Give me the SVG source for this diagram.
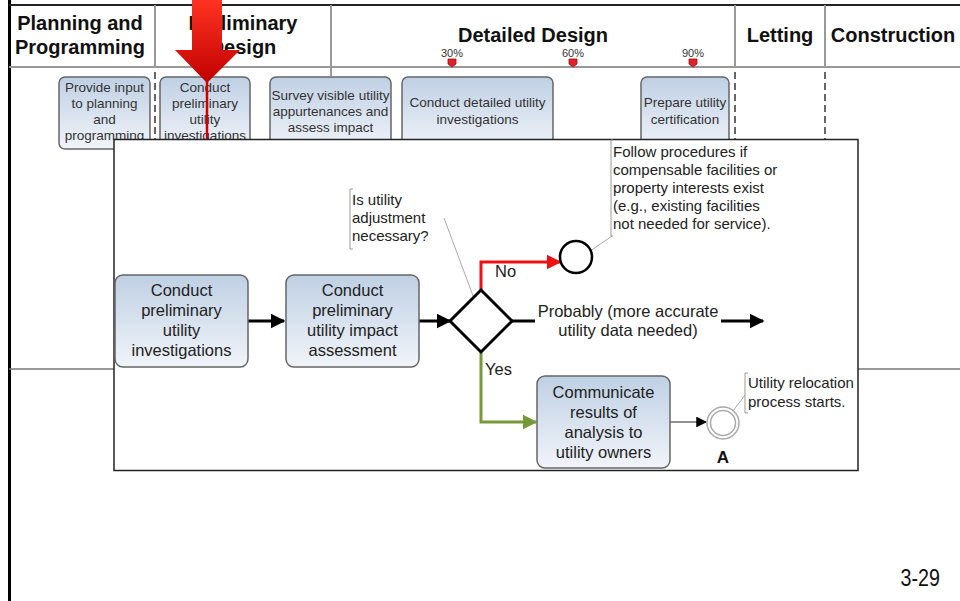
<svg xmlns="http://www.w3.org/2000/svg" width="960" height="601" viewBox="0 0 960 601">
  <defs>
    <linearGradient id="boxFill" x1="0" y1="0" x2="0" y2="1">
      <stop offset="0" stop-color="#bfd0e4"/>
      <stop offset="1" stop-color="#f1f4f9"/>
    </linearGradient>
    <linearGradient id="redArrow" x1="0" y1="0" x2="0" y2="1">
      <stop offset="0" stop-color="#ff3322"/>
      <stop offset="1" stop-color="#c00000"/>
    </linearGradient>
    <marker id="ahBlack" viewBox="0 0 10 10" refX="9" refY="5" markerWidth="5" markerHeight="5" markerUnits="strokeWidth" orient="auto">
      <path d="M0,0 L10,5 L0,10 Z" fill="#000"/>
    </marker>
    <marker id="ahRed" viewBox="0 0 10 10" refX="9" refY="5" markerWidth="5" markerHeight="5" markerUnits="strokeWidth" orient="auto">
      <path d="M0,0 L10,5 L0,10 Z" fill="#ee1111"/>
    </marker>
    <marker id="ahGreen" viewBox="0 0 10 10" refX="9" refY="5" markerWidth="5" markerHeight="5" markerUnits="strokeWidth" orient="auto">
      <path d="M0,0 L10,5 L0,10 Z" fill="#77993a"/>
    </marker>
    <marker id="ahThin" viewBox="0 0 10 10" refX="9" refY="5" markerWidth="9" markerHeight="9" markerUnits="strokeWidth" orient="auto">
      <path d="M0,0 L10,5 L0,10 Z" fill="#000"/>
    </marker>
  </defs>
  <style>
    text { font-family: "Liberation Sans", Arial, sans-serif; fill: #222; }
    .hdr { font-size: 20px; font-weight: bold; fill: #111; text-anchor: middle; }
    .ms { font-size: 11px; fill: #333; text-anchor: middle; }
    .sm { font-size: 13.5px; fill: #333; text-anchor: middle; }
    .big { font-size: 16.5px; fill: #222; text-anchor: middle; }
    .note { font-size: 15px; fill: #222; }
    .lbl { font-size: 16.5px; fill: #222; }
    .box { fill: url(#boxFill); stroke: #666; stroke-width: 1.5; }
    .grid { stroke: #999; stroke-width: 2; fill: none; }
    .dash { stroke: #666; stroke-width: 2; stroke-dasharray: 7 4; fill: none; }
    .brk { fill: none; stroke: #999; stroke-width: 1; }
    .lead { stroke: #aaa; stroke-width: 1; fill: none; }
    .flow { fill: none; stroke: #000; stroke-width: 3; }
    .mk { fill: #e0202a; stroke: #a01010; stroke-width: 0.8; }
  </style>

  <rect width="960" height="601" fill="#fff"/>

  <!-- page frame -->
  <line x1="9.5" y1="0" x2="9.5" y2="601" stroke="#000" stroke-width="3"/>
  <line x1="9" y1="5" x2="960" y2="5" stroke="#222" stroke-width="2"/>

  <!-- phase header grid -->
  <g id="phase-grid">
    <line class="grid" x1="9" y1="67" x2="960" y2="67"/>
    <line class="grid" x1="155" y1="5" x2="155" y2="67"/>
    <line class="grid" x1="331" y1="5" x2="331" y2="76" stroke="#666"/>
    <line class="grid" x1="735" y1="5" x2="735" y2="67"/>
    <line class="grid" x1="825" y1="5" x2="825" y2="67"/>
    <line class="dash" x1="155" y1="72" x2="155" y2="140"/>
    <line class="dash" x1="735" y1="72" x2="735" y2="140"/>
    <line class="dash" x1="825" y1="72" x2="825" y2="140"/>
    <line x1="9" y1="369" x2="114" y2="369" stroke="#777" stroke-width="1.5"/>
    <line x1="858" y1="369" x2="960" y2="369" stroke="#777" stroke-width="1.5"/>
  </g>

  <g id="phase-headers">
    <text class="hdr" x="80" y="30">Planning and</text>
    <text class="hdr" x="80" y="54">Programming</text>
    <text class="hdr" x="243" y="30">Preliminary</text>
    <text class="hdr" x="243" y="54">Design</text>
    <text class="hdr" x="533" y="42">Detailed Design</text>
    <text class="hdr" x="780" y="42">Letting</text>
    <text class="hdr" x="893" y="42">Construction</text>
  </g>

  <g id="milestones">
    <text class="ms" x="452" y="57">30%</text>
    <path class="mk" d="M448,59 h8 v5 l-4,3 l-4,-3 Z"/>
    <text class="ms" x="573" y="57">60%</text>
    <path class="mk" d="M569,59 h8 v5 l-4,3 l-4,-3 Z"/>
    <text class="ms" x="693" y="57">90%</text>
    <path class="mk" d="M689,59 h8 v5 l-4,3 l-4,-3 Z"/>
  </g>

  <!-- activities along the phase strip -->
  <g id="act-provide-input">
    <rect class="box" x="59" y="77" width="91" height="72" rx="6"/>
    <text class="sm" x="104.5" y="92">Provide input</text>
    <text class="sm" x="104.5" y="108">to planning</text>
    <text class="sm" x="104.5" y="124">and</text>
    <text class="sm" x="104.5" y="140">programming</text>
  </g>
  <g id="act-prelim-investigations">
    <rect class="box" x="160" y="77" width="90" height="72" rx="6"/>
    <text class="sm" x="205" y="92">Conduct</text>
    <text class="sm" x="205" y="108">preliminary</text>
    <text class="sm" x="205" y="124">utility</text>
    <text class="sm" x="205" y="140">investigations</text>
  </g>
  <g id="act-survey">
    <rect class="box" x="270" y="77" width="121" height="72" rx="6"/>
    <text class="sm" x="330.5" y="100">Survey visible utility</text>
    <text class="sm" x="330.5" y="116">appurtenances and</text>
    <text class="sm" x="330.5" y="132">assess impact</text>
  </g>
  <g id="act-detailed-investigations">
    <rect class="box" x="402" y="77" width="151" height="72" rx="6"/>
    <text class="sm" x="477.5" y="107">Conduct detailed utility</text>
    <text class="sm" x="477.5" y="124">investigations</text>
  </g>
  <g id="act-certification">
    <rect class="box" x="641" y="77" width="88" height="72" rx="6"/>
    <text class="sm" x="685" y="107">Prepare utility</text>
    <text class="sm" x="685" y="124">certification</text>
  </g>

  <!-- "you are here" pointer -->
  <g id="pointer">
    <path d="M192,0 H222 V50 H240 L207,83 L175,50 H192 Z" fill="url(#redArrow)"/>
    <line x1="207" y1="80" x2="207" y2="140" stroke="#d00000" stroke-width="2.5"/>
  </g>

  <!-- enlarged detail panel -->
  <g id="detail-panel">
    <rect x="114" y="139.5" width="744" height="331" fill="#fff" stroke="#222" stroke-width="1.5"/>
  </g>

  <g id="connectors">
    <line class="flow" x1="248" y1="321" x2="284" y2="321" marker-end="url(#ahBlack)"/>
    <line class="flow" x1="419" y1="321" x2="450" y2="321" marker-end="url(#ahBlack)"/>
    <path d="M481,290 V262 H560" fill="none" stroke="#ee1111" stroke-width="3" marker-end="url(#ahRed)"/>
    <path d="M481,352 V422 H536" fill="none" stroke="#77993a" stroke-width="3" marker-end="url(#ahGreen)"/>
    <line class="flow" x1="512" y1="321" x2="535" y2="321"/>
    <line class="flow" x1="721" y1="321" x2="763" y2="321" marker-end="url(#ahBlack)"/>
    <line x1="670" y1="422" x2="706" y2="422" stroke="#222" stroke-width="1.2" marker-end="url(#ahThin)"/>
    <!-- annotation leaders -->
    <line class="lead" x1="444" y1="218" x2="479" y2="312"/>
    <line class="lead" x1="612" y1="236" x2="580" y2="258"/>
    <line class="lead" x1="745" y1="395" x2="721" y2="427"/>
  </g>

  <g id="task-prelim-investigations">
    <rect class="box" x="115" y="275" width="133" height="92" rx="8"/>
    <text class="big" x="181.5" y="296">Conduct</text>
    <text class="big" x="181.5" y="316">preliminary</text>
    <text class="big" x="181.5" y="336">utility</text>
    <text class="big" x="181.5" y="356">investigations</text>
  </g>
  <g id="task-impact-assessment">
    <rect class="box" x="286" y="275" width="133" height="92" rx="8"/>
    <text class="big" x="352.5" y="296">Conduct</text>
    <text class="big" x="352.5" y="316">preliminary</text>
    <text class="big" x="352.5" y="336">utility impact</text>
    <text class="big" x="352.5" y="356">assessment</text>
  </g>
  <g id="gateway-adjustment">
    <path d="M481,290 L512,321 L481,352 L450,321 Z" fill="#fff" stroke="#000" stroke-width="3"/>
  </g>
  <g id="end-compensable">
    <circle cx="576" cy="257" r="16" fill="#fff" stroke="#000" stroke-width="2.5"/>
  </g>
  <g id="task-communicate">
    <rect class="box" x="537" y="376" width="133" height="92" rx="8"/>
    <text class="big" x="603.5" y="398">Communicate</text>
    <text class="big" x="603.5" y="418">results of</text>
    <text class="big" x="603.5" y="438">analysis to</text>
    <text class="big" x="603.5" y="458">utility owners</text>
  </g>
  <g id="link-a">
    <circle cx="723" cy="423" r="16" fill="#fff" stroke="#aaa" stroke-width="1.5"/>
    <circle cx="723" cy="423" r="12.5" fill="none" stroke="#aaa" stroke-width="1.5"/>
    <text x="723" y="463" text-anchor="middle" style="font-size:17px;font-weight:bold;fill:#111">A</text>
  </g>

  <g id="flow-labels">
    <text class="lbl" x="495" y="277">No</text>
    <text class="lbl" x="485" y="375">Yes</text>
    <text class="big" x="628" y="317">Probably (more accurate</text>
    <text class="big" x="628" y="336">utility data needed)</text>
  </g>

  <g id="note-adjustment">
    <path class="brk" d="M353,189 H350 V249 H353"/>
    <text class="note" x="352" y="205">Is utility</text>
    <text class="note" x="352" y="223">adjustment</text>
    <text class="note" x="352" y="241">necessary?</text>
  </g>
  <g id="note-compensable">
    <path class="brk" d="M613,140 H611 V236 H613"/>
    <text class="note" x="613" y="157">Follow procedures if</text>
    <text class="note" x="613" y="175">compensable facilities or</text>
    <text class="note" x="613" y="193">property interests exist</text>
    <text class="note" x="613" y="211">(e.g., existing facilities</text>
    <text class="note" x="613" y="229">not needed for service).</text>
  </g>
  <g id="note-relocation">
    <path class="brk" d="M748,373 H745 V413 H748"/>
    <text class="note" x="748" y="388">Utility relocation</text>
    <text class="note" x="748" y="407">process starts.</text>
  </g>

  <text x="940" y="586" text-anchor="end" style="font-family:'Liberation Sans Narrow','Liberation Sans',sans-serif;font-size:24px;fill:#111" transform="translate(940 0) scale(0.82 1) translate(-940 0)">3-29</text>
</svg>
